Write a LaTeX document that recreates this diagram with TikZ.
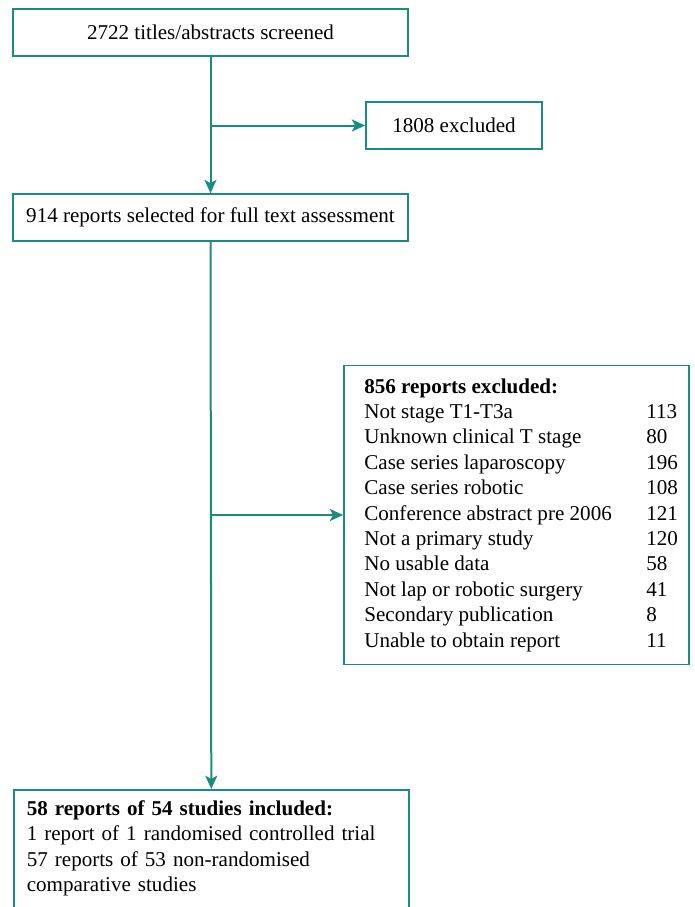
\documentclass[tikz,border=0pt]{standalone}
\usepackage{fontspec}
\setmainfont{Liberation Serif}
\usepackage{xcolor}
\usetikzlibrary{positioning, arrows.meta}

\definecolor{flowteal}{RGB}{26,140,128}

\tikzset{
    box/.style={draw=flowteal, line width=1.2pt, rectangle, inner sep=0pt},
    flow/.style={draw=flowteal, line width=1.5pt, -{Stealth[length=10pt, width=9pt, inset=2.5pt]}}
}

\begin{document}
\begin{tikzpicture}[x=0.75pt, y=-0.75pt, font=\fontsize{15.8}{19.05}\selectfont]

        \clip (0,0) rectangle (694,907);

        % Main Boxes
        \node[box, minimum width=296.25pt, minimum height=35.25pt] (scr) at (210.5, 32.5) {2722 titles/abstracts screened};
        \node[box, minimum width=132pt, minimum height=35.25pt] (excl) at (454, 125.5) {1808 excluded};
        \node[box, minimum width=296.25pt, minimum height=35.25pt] (full) at (210.5, 217.5) {914 reports selected for full text assessment};

        % Reasons for exclusion
        \node[box, minimum width=258.75pt, minimum height=224.25pt] (rsn) at (516.5, 515) {%
            \hspace{7pt}\begin{tabular}{@{}p{211.5pt}@{}l@{}}
                \textbf{856 reports excluded:} & \\
                Not stage T1-T3a & 113 \\
                Unknown clinical T stage & 80 \\
                Case series laparoscopy & 196 \\
                Case series robotic & 108 \\
                Conference abstract pre 2006 & 121 \\
                Not a primary study & 120 \\
                No usable data & 58 \\
                Not lap or robotic surgery & 41 \\
                Secondary publication & 8 \\
                Unable to obtain report & 11
            \end{tabular}};

        % Included studies (box runs off the bottom)
        \node[box, anchor=north west, text width=276.75pt, align=left, inner xsep=9.75pt, inner ysep=8pt] (incl) at (13, 789) {%
            \textbf{58 reports of 54 studies included:}\\
            1 report of 1 randomised controlled trial\\
            57 reports of 53 non-randomised\\
            comparative studies\\
            \rule{0pt}{30pt}};

        % Arrows
        \draw[flow] (scr.south) -- (full.north);
        \draw[flow] (scr.south |- excl.west) -- (excl.west);
        \draw[flow] (full.south) -- (incl.north);
        \draw[flow] (full.south |- rsn.west) -- (rsn.west);

\end{tikzpicture}
\end{document}
